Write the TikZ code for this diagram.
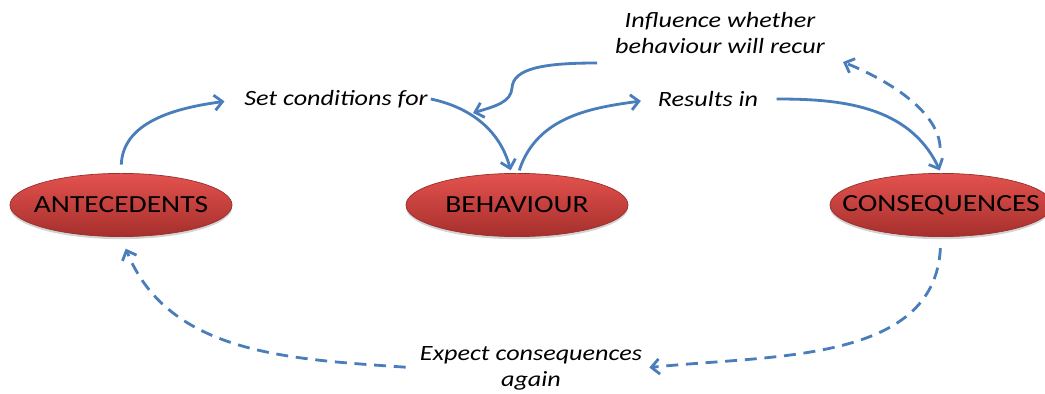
\documentclass[tikz,border=0pt]{standalone}
\usepackage{fontspec}
\setmainfont{Carlito}[FakeStretch=1.2]
\usetikzlibrary{arrows.meta,shapes.geometric,shadows,positioning}
\definecolor{flowblue}{HTML}{4A7EBB}
\definecolor{stateTop}{HTML}{E4524E}
\definecolor{stateBot}{HTML}{A52F2C}
\definecolor{stateEdge}{HTML}{98302C}
\tikzset{
    state/.style={ellipse, draw=stateEdge, line width=0.5pt, top color=stateTop, bottom color=stateBot,
        minimum width=5.55cm, minimum height=1.58cm, inner xsep=-30pt, inner ysep=0pt,
        font=\fontsize{17.5}{20}\selectfont,
        drop shadow={shadow xshift=0pt, shadow yshift=-1.8pt, opacity=0.35}},
    cue/.style={align=center, inner sep=2pt, font=\fontsize{15.5}{18.4}\selectfont\itshape},
    flow/.style={-{Straight Barb[length=2mm, width=3.8mm]}, line width=2pt, flowblue},
    expect/.style={flow, dash pattern=on 8.5pt off 5.5pt}
}

\begin{document}
\begin{tikzpicture}[x=0.025cm, y=0.025cm]
    \useasboundingbox (0,0) rectangle (1045,394);
    % the three stages
    \node[state] (ant) at (121,189) {ANTECEDENTS};
    \node[state] (beh) at (517,189) {BEHAVIOUR};
    \node[state] (con) at (941,189) {CONSEQUENCES};
    % labels on the arrows
    \node[cue] (setc) at (336,295) {Set conditions for};
    \node[cue] (res) at (708,295) {Results in};
    \node[cue] (infl) at (720,361) {Influence whether\\behaviour will recur};
    \node[cue] (expc) at (531,26) {Expect consequences\\again};
    \coordinate (recur) at (597,331);
    \coordinate (cond) at (473,281);
    \coordinate (back) at (843,332);
    % solid arrows
    \draw[flow, shorten <=6pt, shorten >=12pt] (ant.north) to[out=88, in=188] (setc.west);
    \draw[flow, shorten >=2pt] (setc.east) to[out=-12, in=105] ([xshift=-4pt]beh.north);
    \draw[flow, shorten <=2pt, shorten >=10pt] ([xshift=1pt]beh.north) to[out=72, in=188] (res.west);
    \draw[flow, shorten <=11pt, shorten >=2pt] (res.east) to[out=0, in=115] (con.north);
    \draw[flow] (recur) .. controls (545,331) and (513,326) .. (512,306)
        .. controls (511,292) and (496,288) .. (cond);
    % dashed arrows
    \draw[expect, shorten <=18pt] (con.north) to[out=92, in=-22] (back);
    \draw[expect, shorten <=8pt, shorten >=3pt] (con.south) to[out=-93, in=6] (expc.east);
    \draw[expect, shorten <=8pt, shorten >=9pt] (expc.west) to[out=176, in=-68] (ant.south);
\end{tikzpicture}
\end{document}
